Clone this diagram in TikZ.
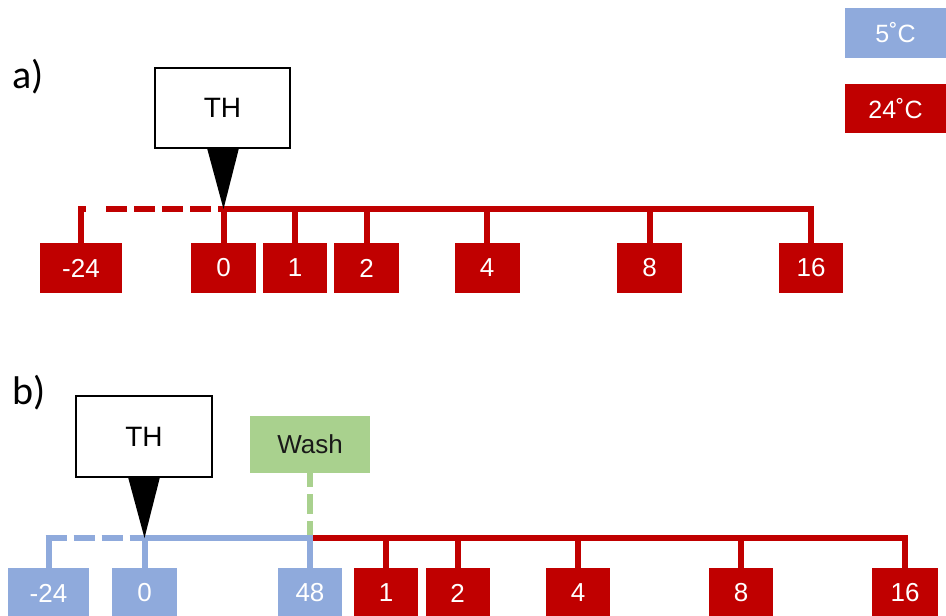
\documentclass[tikz,border=0pt]{standalone}
\usepackage{fontspec}
\setmainfont{Liberation Sans}
\newfontfamily\labelfont{Carlito}
\definecolor{warm}{HTML}{C00000}
\definecolor{cold}{HTML}{8FAADC}
\definecolor{washgreen}{HTML}{A9D18E}
\tikzset{
  sample/.style={rectangle, inner sep=0pt, minimum height=50pt, text=white,
    font=\fontsize{26}{26}\selectfont},
  hot/.style={sample, fill=warm},
  cool/.style={sample, fill=cold},
  legendbox/.style={minimum width=101pt, font=\fontsize{25}{25}\selectfont},
  thbox/.style={rectangle, draw=black, line width=2pt, fill=white, inner sep=0pt,
    font=\fontsize{28}{28}\selectfont},
  pointer/.style={fill=black},
  tube/.style={line width=6pt, miter limit=10},
  gapped/.style={tube, dash pattern=on 21pt off 7pt},
  partlabel/.style={anchor=base west, inner sep=0pt, font=\labelfont\fontsize{40}{40}\selectfont},
}
\begin{document}
\begin{tikzpicture}[x=1pt, y=-1pt]
\useasboundingbox (0,0) rectangle (946,616);

% ---- legend ----
\node[cool, legendbox] (leg5) at (895.5,33) {5\char"02DA C};
\node[hot, legendbox, minimum height=49pt] (leg24) at (895.5,108.5) {24\char"02DA C};

% ================= a) =================
\node[partlabel] (la) at (12,88) {a)};

\node[hot, minimum width=82pt] (am24) at (81,268) {-24};
\node[hot, minimum width=65pt] (a0) at (223.5,268) {0};
\node[hot, minimum width=64pt] (a1) at (295,268) {1};
\node[hot, minimum width=65pt] (a2) at (366.5,268) {2};
\node[hot, minimum width=65pt] (a4) at (487,268) {4};
\node[hot, minimum width=65pt] (a8) at (649.5,268) {8};
\node[hot, minimum width=64pt] (a16) at (811,268) {16};

\coordinate (aL) at (am24.north |- 0,209);
\coordinate (aT) at (a0.north |- 0,209);
\coordinate (aR) at (a16.north |- 0,209);
\coordinate (aD0) at (106,209);

% timeline, dashed before thermal treatment
\draw[tube, warm] (am24.north) -- (aL) -- ++(5,0);
\draw[gapped, warm] (aD0) -- (aT);
\draw[tube, warm] (a0.north) -- (aT) -- (aR) -- (a16.north);
\foreach \b in {a1,a2,a4,a8}
  \draw[tube, warm] (\b.north) -- (\b.north |- aT);

\node[thbox, minimum width=135pt, minimum height=80pt] (tha) at (222.5,108) {TH};
\fill[pointer] (207,148) -- (239,148) -- (aT) -- cycle;

% ================= b) =================
\node[partlabel] (lb) at (12,404) {b)};

\node[cool, minimum width=81pt] (bm24) at (48.5,593) {-24};
\node[cool, minimum width=65pt] (b0) at (144.5,593) {0};
\node[cool, minimum width=64pt] (b48) at (310,593) {48};
\node[hot, minimum width=64pt] (b1) at (386,593) {1};
\node[hot, minimum width=64pt] (b2) at (457.5,593) {2};
\node[hot, minimum width=64pt] (b4) at (578,593) {4};
\node[hot, minimum width=64pt] (b8) at (741,593) {8};
\node[hot, minimum width=66pt] (b16) at (905,593) {16};

\coordinate (bL) at (bm24.north |- 0,538);
\coordinate (bT) at (b0.north |- 0,538);
\coordinate (bW) at (b48.north |- 0,538);
\coordinate (bR) at (b16.north |- 0,538);

\node[rectangle, fill=washgreen, inner sep=0pt, minimum width=120pt, minimum height=57pt,
  text=black!90, font=\fontsize{26}{26}\selectfont] (wash) at (310,444.5) {Wash};
\draw[tube, washgreen, dash pattern=on 14pt off 7pt on 20pt off 7pt on 20pt off 0pt] (wash.south) -- (bW);

% cold period
\draw[tube, cold] (bm24.north) -- (bL);
\draw[gapped, cold] ([xshift=-3pt]bL) -- (bT);
\draw[tube, cold] (b0.north) -- (bT) -- ([xshift=3pt]bW);
\draw[tube, cold] (b48.north) -- (bW);
% warm period
\draw[tube, warm] ([xshift=3pt]bW) -- (bR) -- (b16.north);
\foreach \b in {b1,b2,b4,b8}
  \draw[tube, warm] (\b.north) -- (\b.north |- bR);

\node[thbox, minimum width=136pt, minimum height=81pt] (thb) at (144,436.5) {TH};
\fill[pointer] (128,477) -- (160,477) -- (bT) -- cycle;
\end{tikzpicture}
\end{document}
